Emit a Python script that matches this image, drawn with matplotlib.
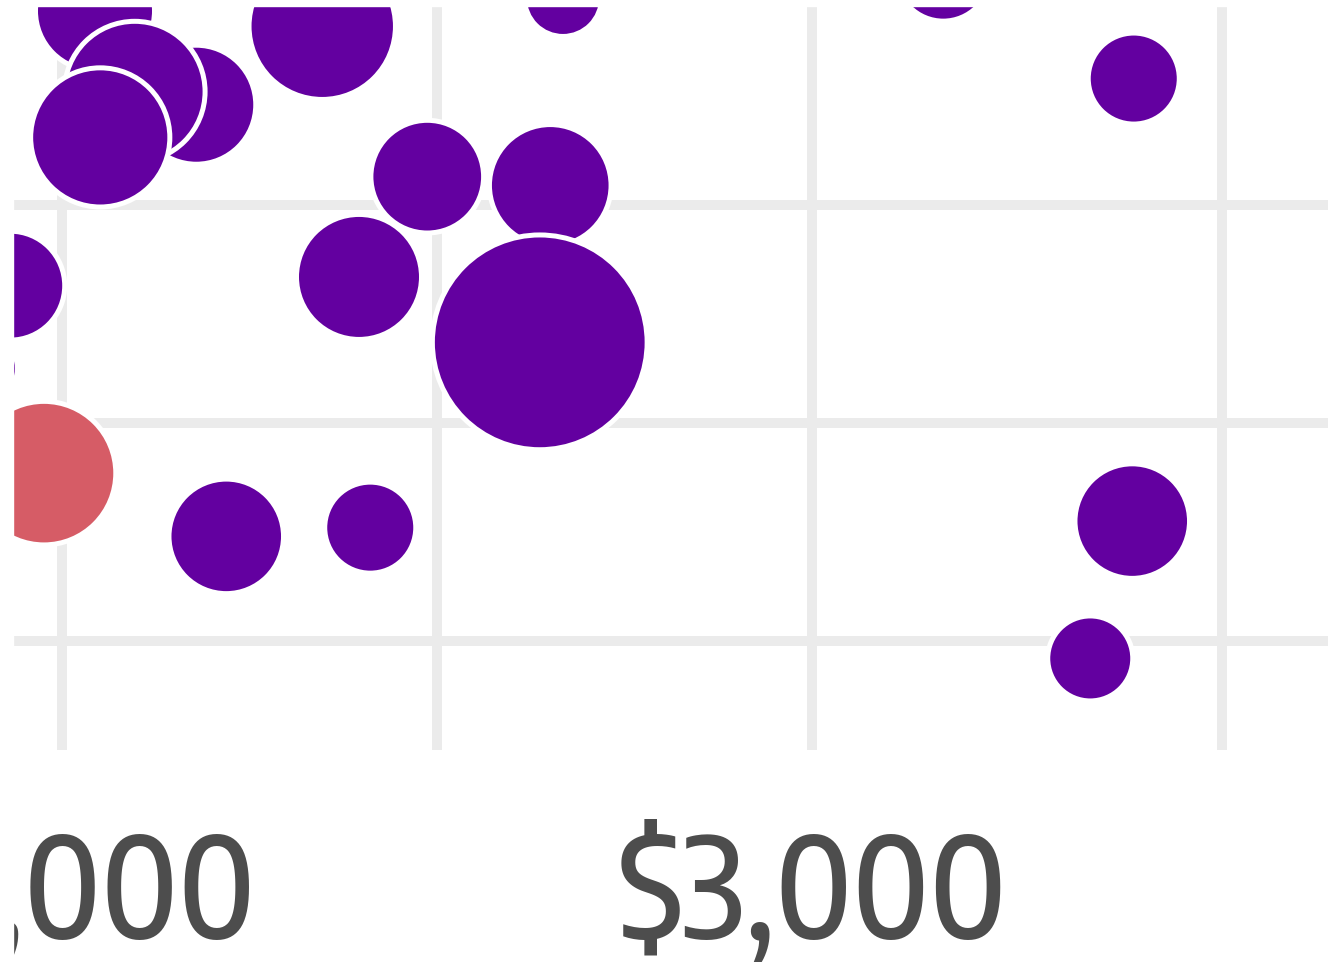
import matplotlib.pyplot as plt
from matplotlib.patches import Rectangle
from matplotlib import font_manager as fm
import numpy as np

# bubble data: income ($), second measure, size value, group
income = [2044, 2179, 2097, 2051, 2347, 2668, 1931, 2487, 2396, 2651, 2637,
          1891, 1976, 2219, 2411, 3175, 3429, 3427, 3371]
measure = [48.9, 44.6, 45.2, 43.1, 48.2, 49.5, 36.3, 41.3, 36.7, 40.9, 33.7,
           32.5, 27.7, 24.8, 25.2, 50.6, 45.8, 25.5, 19.2]
size_val = [32.5, 32.5, 46, 45, 50, 13, 27, 29, 36, 34, 110,
            12, 48, 30, 18.5, 20, 18.5, 30, 16]
group = ['b', 'b', 'b', 'b', 'b', 'b', 'b', 'b', 'b', 'b', 'b',
         'b', 'r', 'b', 'b', 'b', 'b', 'b', 'b']

x_major = [2000, 3000]
x_minor = [2500, 3547]
y_grid = [20, 30, 40]

palette = {'b': '#6300a0', 'r': '#d65c66'}
colors = [palette[g] for g in group]


def pick_narrow():
    # find a narrow sans face, else None
    stretch_rank = {'condensed': 3, 'extra-condensed': 2, 'semi-condensed': 1,
                    'ultra-condensed': 1, 75: 3, 62: 2, 87: 1, 50: 1}
    weight_rank = {500: 3, 'medium': 3, 400: 2, 'normal': 2, 'regular': 2,
                   600: 1}
    best, best_score = None, 0
    for f in fm.fontManager.ttflist:
        nm = f.name.lower()
        path = f.fname.lower()
        if 'sans' not in nm or 'mono' in nm or f.style != 'normal':
            continue
        st = stretch_rank.get(f.stretch, 0)
        if 'narrow' in nm or 'narrow' in path:
            st = max(st, 2)
        if 'extracondensed' in path:
            st = max(st, 2)
        elif 'semicondensed' in path:
            st = max(st, 1)
        elif 'condensed' in path or 'condensed' in nm:
            st = max(st, 3)
        if st == 0:
            continue
        w = weight_rank.get(f.weight, 0)
        if 'bold' in path or 'light' in path or 'thin' in path \
                or 'black' in path or 'italic' in path or 'oblique' in path:
            w = 0
        score = st * 10 + w
        if score > best_score:
            best, best_score = f, score
    return best


narrow = pick_narrow()

fig = plt.figure(figsize=(13.28, 9.69), dpi=100)
ax = fig.add_axes([0, 219 / 969, 1, 750 / 969])

# marker diameter in points (radius ~ 10px * sqrt(value), plus white ring)
edge_px = 5
diam_pt = [2 * (10 * np.sqrt(v) + edge_px / 2) * 0.72 for v in size_val]
s = [d ** 2 for d in diam_pt]

ax.scatter(income, measure, s=s, c=colors, edgecolors='white',
           linewidths=edge_px * 0.72, zorder=3)

ax.set_xlim(2000 - 62 / 0.75, 2000 + (1328 - 62) / 0.75)
ax.set_ylim(40 - 545 / 21.8, 40 + 205 / 21.8)

ax.set_xticks(x_major)
ax.set_xticks(x_minor, minor=True)
ax.set_xticklabels(['${:,}'.format(v) for v in x_major])
ax.set_yticks(y_grid)
ax.set_yticklabels([])
ax.grid(which='both', color='#ebebeb', linewidth=7.2, zorder=0)
ax.set_axisbelow(True)
ax.tick_params(which='both', length=0, pad=55, labelsize=100,
               labelcolor='#4d4d4d')
for lab in ax.get_xticklabels():
    if narrow is not None:
        lab.set_fontproperties(fm.FontProperties(fname=narrow.fname))
        lab.set_fontsize(100)
    else:
        lab.set_fontsize(85)
for sp in ax.spines.values():
    sp.set_visible(False)

# white margin at left and top of the crop
fig.add_artist(Rectangle((0, 0), 13 / 1328, 1, transform=fig.transFigure,
                         color='white', zorder=10))
fig.add_artist(Rectangle((0, 1 - 6 / 969), 1, 6 / 969,
                         transform=fig.transFigure, color='white', zorder=10))

fig.savefig('out.png', dpi=100)
